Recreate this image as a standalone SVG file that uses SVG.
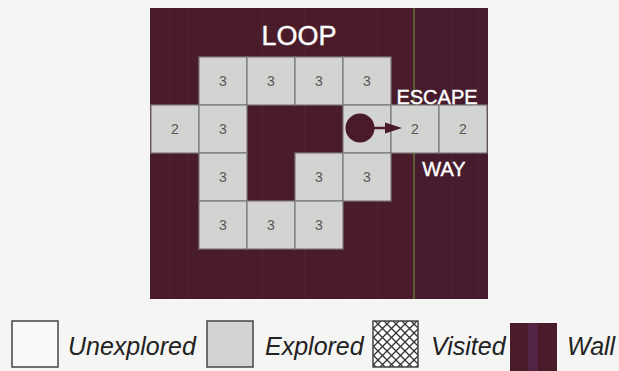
<svg xmlns="http://www.w3.org/2000/svg" width="619" height="371" viewBox="0 0 619 371">
<style>
.cell{fill:#d3d3d1;stroke:#7a7a78;stroke-width:1.2}
.num{font-family:"Liberation Sans",Arial,sans-serif;font-size:14px;fill:#555;text-anchor:middle}
.lbl{font-family:"Liberation Sans",Arial,sans-serif;fill:#fff;text-anchor:middle;stroke:#fff;stroke-width:0.4}
.leg{font-family:"Liberation Sans",Arial,sans-serif;font-style:italic;font-size:25px;fill:#222}
.lbox{stroke:#444;stroke-width:1.5}
.stripe{stroke:#6a3a4a;stroke-width:1;opacity:0.3}
</style>
<defs>
<pattern id="visited" width="9" height="9" patternUnits="userSpaceOnUse">
<rect width="9" height="9" fill="#fff"/>
<path d="M0,0 L9,9 M9,0 L0,9" stroke="#333" stroke-width="1.3"/>
</pattern>
</defs>
<rect width="619" height="371" fill="#f5f5f3"/>
<g id="wall">
<rect x="150" y="8" width="338" height="291" fill="#4a1c2a"/>
<rect x="414" y="8" width="74" height="291" fill="#3f1a36" opacity="0.35"/>
<line class="stripe" x1="170" y1="8" x2="170" y2="299"/>
<line class="stripe" x1="188" y1="8" x2="188" y2="299"/>
<line class="stripe" x1="232" y1="8" x2="232" y2="299"/>
<line class="stripe" x1="262" y1="8" x2="262" y2="299"/>
<line class="stripe" x1="305" y1="8" x2="305" y2="299"/>
<line class="stripe" x1="352" y1="8" x2="352" y2="299"/>
<line class="stripe" x1="378" y1="8" x2="378" y2="299"/>
<line class="stripe" x1="452" y1="8" x2="452" y2="299"/>
<line class="stripe" x1="478" y1="8" x2="478" y2="299"/>
<line x1="414" y1="8" x2="414" y2="299" stroke="#6f9a3c" stroke-width="1"/>
</g>
<g id="cells">
<g id="r0c1"><rect class="cell" x="199" y="57" width="48" height="48"/><text class="num" x="223" y="86">3</text></g>
<g id="r0c2"><rect class="cell" x="247" y="57" width="48" height="48"/><text class="num" x="271" y="86">3</text></g>
<g id="r0c3"><rect class="cell" x="295" y="57" width="48" height="48"/><text class="num" x="319" y="86">3</text></g>
<g id="r0c4"><rect class="cell" x="343" y="57" width="48" height="48"/><text class="num" x="367" y="86">3</text></g>
<g id="r1c0"><rect class="cell" x="151" y="105" width="48" height="48"/><text class="num" x="175" y="134">2</text></g>
<g id="r1c1"><rect class="cell" x="199" y="105" width="48" height="48"/><text class="num" x="223" y="134">3</text></g>
<g id="r1c4"><rect class="cell" x="343" y="105" width="48" height="48"/></g>
<g id="r1c5"><rect class="cell" x="391" y="105" width="48" height="48"/><text class="num" x="415" y="134">2</text></g>
<g id="r1c6"><rect class="cell" x="439" y="105" width="48" height="48"/><text class="num" x="463" y="134">2</text></g>
<g id="r2c1"><rect class="cell" x="199" y="153" width="48" height="48"/><text class="num" x="223" y="182">3</text></g>
<g id="r2c3"><rect class="cell" x="295" y="153" width="48" height="48"/><text class="num" x="319" y="182">3</text></g>
<g id="r2c4"><rect class="cell" x="343" y="153" width="48" height="48"/><text class="num" x="367" y="182">3</text></g>
<g id="r3c1"><rect class="cell" x="199" y="201" width="48" height="48"/><text class="num" x="223" y="230">3</text></g>
<g id="r3c2"><rect class="cell" x="247" y="201" width="48" height="48"/><text class="num" x="271" y="230">3</text></g>
<g id="r3c3"><rect class="cell" x="295" y="201" width="48" height="48"/><text class="num" x="319" y="230">3</text></g>
</g>
<g id="agent"><circle cx="360" cy="128" r="14.5" fill="#4a1a2a"/></g>
<g id="connectors">
<line x1="374" y1="128" x2="388" y2="128" stroke="#4a1a2a" stroke-width="2.5"/>
<path d="M385,122.5 L402,128 L385,133.5 z" fill="#4a1a2a"/>
</g>
<g id="labels">
<text class="lbl" x="299" y="45" font-size="27">LOOP</text>
<text class="lbl" x="437" y="104" font-size="20">ESCAPE</text>
<text class="lbl" x="444" y="176" font-size="20">WAY</text>
</g>
<g id="legend">
<g id="leg-unexplored"><rect class="lbox" x="12" y="321" width="46" height="46" fill="#fafafa"/><text class="leg" x="68" y="355">Unexplored</text></g>
<g id="leg-explored"><rect class="lbox" x="207" y="321" width="46" height="46" fill="#d3d3d1"/><text class="leg" x="265" y="355">Explored</text></g>
<g id="leg-visited"><rect class="lbox" x="373" y="321" width="45" height="46" fill="url(#visited)"/><text class="leg" x="431" y="355">Visited</text></g>
<g id="leg-wall"><rect x="510" y="323" width="47" height="48" fill="#4a1c2a"/><rect x="528" y="323" width="10" height="48" fill="#5a2a5a" opacity="0.5"/><text class="leg" x="567" y="355">Wall</text></g>
</g>
</svg>
